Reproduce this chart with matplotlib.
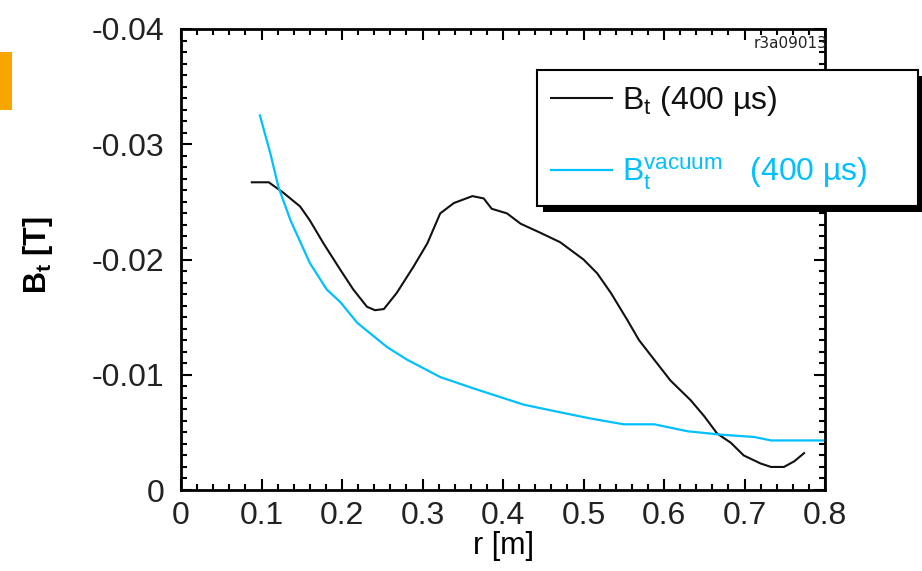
import matplotlib
matplotlib.use("Agg")
import matplotlib.pyplot as plt
from matplotlib.patches import Rectangle
from matplotlib.ticker import MultipleLocator
from matplotlib.transforms import IdentityTransform

plt.rcParams['font.family'] = ['Liberation Sans', 'DejaVu Sans']
plt.rcParams['mathtext.default'] = 'regular'

# Data
r_bt = [0.088, 0.109, 0.115, 0.127, 0.148, 0.160, 0.177, 0.198, 0.214, 0.231,
        0.241, 0.252, 0.268, 0.289, 0.306, 0.322, 0.339, 0.362, 0.376, 0.386,
        0.405, 0.422, 0.447, 0.471, 0.500, 0.517, 0.534, 0.554, 0.569, 0.608,
        0.633, 0.650, 0.666, 0.683, 0.699, 0.720, 0.733, 0.749, 0.762, 0.774]
bt = [-0.0267, -0.0267, -0.0264, -0.0258, -0.0246, -0.0234, -0.0214, -0.0191, -0.0174, -0.0159,
      -0.0156, -0.0157, -0.0171, -0.0194, -0.0214, -0.0240, -0.0249, -0.0255, -0.0253, -0.0244,
      -0.0240, -0.0231, -0.0223, -0.0215, -0.0200, -0.0188, -0.0171, -0.0148, -0.0130, -0.0095,
      -0.0078, -0.0064, -0.0049, -0.0041, -0.0030, -0.0023, -0.0020, -0.0020, -0.0025, -0.0032]

r_vac = [0.098, 0.111, 0.121, 0.136, 0.160, 0.181, 0.198, 0.219, 0.256, 0.281, 0.322,
         0.364, 0.426, 0.467, 0.509, 0.550, 0.588, 0.629, 0.671, 0.712, 0.733, 0.800]
bvac = [-0.0325, -0.0292, -0.0263, -0.0234, -0.0197, -0.0174, -0.0163, -0.0145, -0.0124, -0.0113, -0.0098,
        -0.0088, -0.0074, -0.0068, -0.0062, -0.0057, -0.0057, -0.0051, -0.0048, -0.0046, -0.0043, -0.0043]

xticks = [0, 0.1, 0.2, 0.3, 0.4, 0.5, 0.6, 0.7, 0.8]
xticklabels = ['0', '0.1', '0.2', '0.3', '0.4', '0.5', '0.6', '0.7', '0.8']
yticks = [0, -0.01, -0.02, -0.03, -0.04]
yticklabels = ['0', '-0.01', '-0.02', '-0.03', '-0.04']

label_bt = r'B$_t$ (400 µs)'
label_vac = r'B$_t^{vacuum}$   (400 µs)'
CYAN = '#00C0FF'

W, H = 922, 571
fig = plt.figure(figsize=(W / 100, H / 100), dpi=100)
ax = fig.add_axes([181 / W, 1 - 490 / H, (825 - 181) / W, (490 - 29) / H])

ax.plot(r_bt, bt, color='#111111', lw=1.5, label=label_bt)
ax.plot(r_vac, bvac, color=CYAN, lw=1.6, label=label_vac)

ax.set_xlim(0, 0.8)
ax.set_ylim(0, -0.04)
ax.set_xticks(xticks)
ax.set_xticklabels(xticklabels)
ax.set_yticks(yticks)
ax.set_yticklabels(yticklabels)
ax.xaxis.set_minor_locator(MultipleLocator(0.02))
ax.yaxis.set_minor_locator(MultipleLocator(0.001))
ax.tick_params(which='both', direction='in', top=True, right=True, width=1.5, colors='black')
ax.tick_params(which='major', length=8, labelsize=23, labelcolor='#222222')
ax.tick_params(axis='y', which='major', pad=12)
ax.tick_params(axis='x', which='major', pad=8)
ax.tick_params(which='minor', length=4)
for s in ax.spines.values():
    s.set_linewidth(2)

ax.set_xlabel('r [m]', fontsize=22, labelpad=0)
fig.text(38 / W, 1 - 255 / H, r'B$_t$ [T]', rotation=90, fontsize=22, fontweight='bold',
         ha='center', va='center')

x0, x1, y0, y1 = 537, 918, 70, 207
leg = ax.legend(loc='upper left',
                bbox_to_anchor=(x0 / W, 1 - y1 / H, (x1 - x0) / W, (y1 - y0) / H),
                bbox_transform=fig.transFigure, mode='expand',
                borderaxespad=0, fontsize=23, handlelength=1.9, handletextpad=0.3, borderpad=0.45,
                labelspacing=1.15, frameon=True, fancybox=False, framealpha=1, edgecolor='black',
                labelcolor='linecolor')
leg.get_frame().set_linewidth(1.5)
leg.set_zorder(5)

fig.canvas.draw()
bb = leg.get_frame().get_window_extent(fig.canvas.get_renderer())
shadow = Rectangle((bb.x0 + 6, bb.y0 - 6), bb.width, bb.height, transform=IdentityTransform(),
                   facecolor='black', edgecolor='none', zorder=4.9, clip_on=False)
ax.add_patch(shadow)

fig.text(827 / W, 1 - 43 / H, 'r3a09013', fontsize=11, ha='right', va='center',
         color='#222222', family='DejaVu Sans')

# cropped orange fragment at the left edge of the source image
fig.patches.append(Rectangle((0, 1 - 110 / H), 12 / W, 58 / H, transform=fig.transFigure,
                             facecolor='#F7A600', edgecolor='none'))

fig.savefig('out.png', dpi=100)
